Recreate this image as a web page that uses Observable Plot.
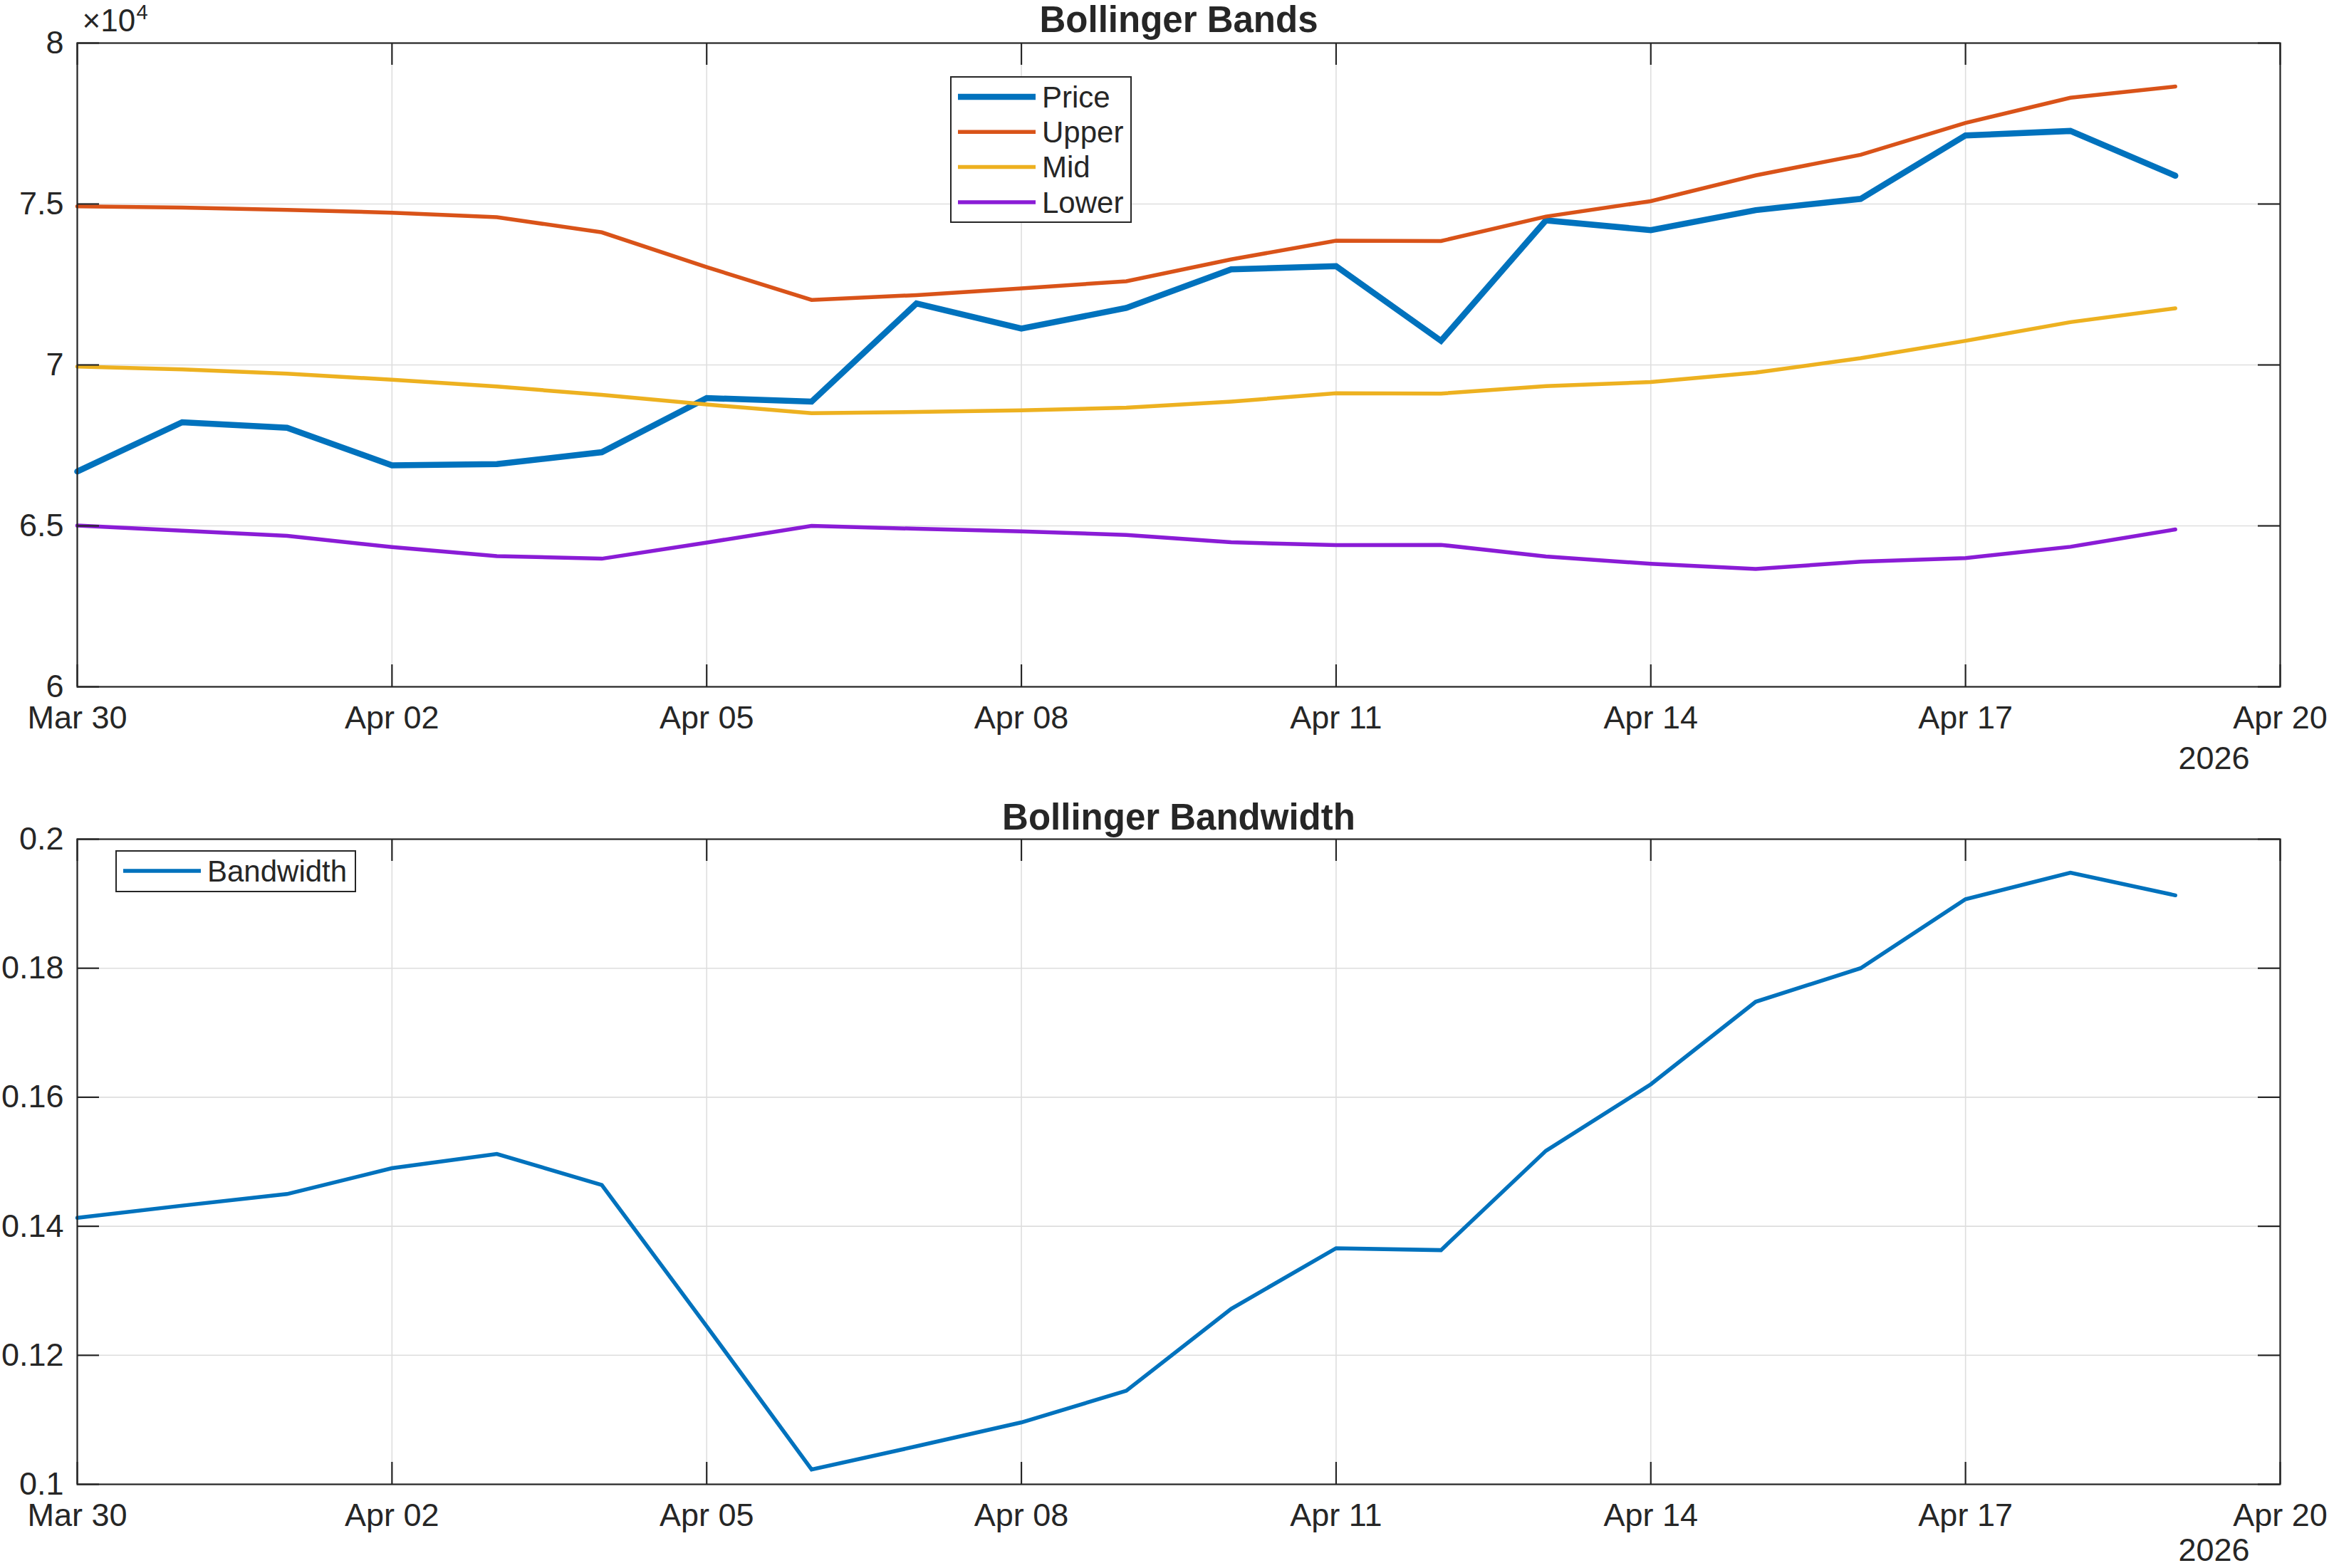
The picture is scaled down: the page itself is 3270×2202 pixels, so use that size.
<!DOCTYPE html>
<html>
<head>
<meta charset="utf-8">
<script src="https://cdn.jsdelivr.net/npm/d3@7"></script>
<script src="https://cdn.jsdelivr.net/npm/@observablehq/plot@0.6"></script>
<style>
  html, body { margin: 0; padding: 0; background: #ffffff; }
  #figure { position: relative; width: 3270px; height: 2202px; background: #ffffff; overflow: hidden; }
  #figure > svg, #figure > div { position: absolute; }
  .legend { box-sizing: border-box; background: #ffffff; border: 2.5px solid #262626; }
</style>
</head>
<body>
<div id="figure"></div>
<script>
// Daily closes and Bollinger band values, Mar 30 – Apr 19 2026
const dates = [
  "2026-03-30", "2026-03-31", "2026-04-01", "2026-04-02", "2026-04-03", "2026-04-04", "2026-04-05",
  "2026-04-06", "2026-04-07", "2026-04-08", "2026-04-09", "2026-04-10", "2026-04-11", "2026-04-12",
  "2026-04-13", "2026-04-14", "2026-04-15", "2026-04-16", "2026-04-17", "2026-04-18", "2026-04-19"
];
const price = [66690, 68220, 68050, 66880, 66920, 67290, 68970, 68860, 71910, 71130, 71770,
               72970, 73070, 70750, 74490, 74190, 74810, 75160, 77130, 77270, 75880];
const upper = [74930, 74890, 74820, 74730, 74590, 74120, 73040, 72020, 72170, 72380, 72600,
               73280, 73860, 73850, 74610, 75090, 75890, 76530, 77520, 78300, 78650];
const mid   = [69950, 69860, 69730, 69540, 69330, 69070, 68770, 68500, 68540, 68590, 68670,
               68860, 69120, 69110, 69340, 69470, 69760, 70210, 70750, 71330, 71760];
const lower = [65010, 64850, 64690, 64340, 64060, 63980, 64480, 65000, 64910, 64830, 64720,
               64490, 64400, 64410, 64050, 63820, 63660, 63890, 64000, 64350, 64890];
const bandwidth = [0.1413, 0.1432, 0.1450, 0.1490, 0.1512, 0.1464, 0.1245, 0.1023, 0.1059, 0.1096, 0.1145,
                   0.1272, 0.1366, 0.1363, 0.1517, 0.1620, 0.1748, 0.1800, 0.1907, 0.1948, 0.1913];

// Axis ticks
const xTickDates = ["2026-03-30", "2026-04-02", "2026-04-05", "2026-04-08", "2026-04-11", "2026-04-14", "2026-04-17", "2026-04-20"];
const xDomain = ["2026-03-30", "2026-04-20"];
const priceTicks = [60000, 65000, 70000, 75000, 80000];
const priceDomain = [60000, 80000];
const bwTicks = [0.10, 0.12, 0.14, 0.16, 0.18, 0.20];
const bwDomain = [0.10, 0.20];
const yearLabel = "2026";

// Series names and colours
const bandSeries = ["Price", "Upper", "Mid", "Lower"];
const bandColors = ["#0072BD", "#D95319", "#EDB120", "#8A1CD6"];
const bandWidths = [8.5, 5.5, 5.5, 5.5];
const bwSeries = ["Bandwidth"];
const bwColors = ["#0072BD"];
const bwWidths = [5.5];

const parse = d3.utcParse("%Y-%m-%d");
const fmtDay = d3.utcFormat("%b %d");
const ink = "#262626";
const gridInk = "#dedede";
const FONT = "'Liberation Sans', Arial, Helvetica, sans-serif";

const bandData = [price, upper, mid, lower].flatMap((vals, k) =>
  vals.map((v, i) => ({date: parse(dates[i]), value: v, series: bandSeries[k]})));
const bwData = bandwidth.map((v, i) => ({date: parse(dates[i]), value: v, series: bwSeries[0]}));

const W = 3270, ML = 108, MR = 69, TICK = 31;
const frameW = W - ML - MR;

function panel({data, series, colors, widths, height, marginTop, marginBottom, yDomain, yTicks, yFormat, title, titleDy, yearDy, exponent}) {
  const frameH = height - marginTop - marginBottom;
  const xTicks = xTickDates.map(parse);
  const marks = [
    Plot.gridX(xTicks, {stroke: gridInk, strokeOpacity: 1, strokeWidth: 1.6}),
    Plot.gridY(yTicks, {stroke: gridInk, strokeOpacity: 1, strokeWidth: 1.6}),
    ...series.map((s, k) => Plot.line(data.filter(d => d.series === s), {
      x: "date", y: "value", stroke: colors[k], strokeWidth: widths[k], strokeLinejoin: "miter", strokeMiterlimit: 4
    })),
    // inward tick marks on all four sides
    Plot.tickX(xTicks, {stroke: ink, strokeWidth: 2.2, insetTop: frameH - TICK}),
    Plot.tickX(xTicks, {stroke: ink, strokeWidth: 2.2, insetBottom: frameH - TICK}),
    Plot.tickY(yTicks, {stroke: ink, strokeWidth: 2.2, insetRight: frameW - TICK}),
    Plot.tickY(yTicks, {stroke: ink, strokeWidth: 2.2, insetLeft: frameW - TICK}),
    Plot.frame({stroke: ink, strokeWidth: 2.2}),
    Plot.text([title], {text: d => d, frameAnchor: "top", lineAnchor: "top", dy: titleDy,
      fontSize: 51, fontWeight: "bold", fill: ink}),
    Plot.text([yearLabel], {text: d => d, frameAnchor: "bottom-right", textAnchor: "end", lineAnchor: "top",
      dx: -43, dy: yearDy, fontSize: 45, fill: ink})
  ];
  if (exponent) {
    marks.push(
      Plot.text(["×10"], {text: d => d, frameAnchor: "top-left", textAnchor: "start", lineAnchor: "top",
        dx: 7, dy: -48, fontSize: 44, fill: ink}),
      Plot.text([exponent], {text: d => d, frameAnchor: "top-left", textAnchor: "start", lineAnchor: "top",
        dx: 83, dy: -54, fontSize: 29, fill: ink})
    );
  }
  return Plot.plot({
    width: W, height,
    marginLeft: ML, marginRight: MR, marginTop, marginBottom,
    style: {fontFamily: FONT, fontSize: "45px", color: ink, background: "#ffffff", overflow: "visible"},
    x: {type: "utc", domain: xDomain.map(parse), ticks: xTicks, tickFormat: fmtDay, tickSize: 0, tickPadding: 27, label: null},
    y: {domain: yDomain, ticks: yTicks, tickFormat: yFormat, tickSize: 0, tickPadding: 19, label: null},
    marks
  });
}

function legend({names, colors, widths, left, top, width, height, rowStep, firstRow}) {
  const box = document.createElement("div");
  box.className = "legend";
  Object.assign(box.style, {left: left + "px", top: top + "px", width: width + "px", height: height + "px"});
  const svg = d3.create("svg").attr("width", width - 5).attr("height", height - 5)
    .style("position", "absolute").style("left", "0px").style("top", "0px");
  names.forEach((n, k) => {
    const cy = firstRow + k * rowStep;
    svg.append("line").attr("x1", 9).attr("x2", 118).attr("y1", cy).attr("y2", cy)
      .attr("stroke", colors[k]).attr("stroke-width", widths[k]);
    svg.append("text").attr("x", 127).attr("y", cy).attr("dy", "0.35em")
      .attr("font-family", FONT).attr("font-size", 42).attr("fill", ink).text(n);
  });
  box.appendChild(svg.node());
  return box;
}

const fig = document.getElementById("figure");

const bandsChart = panel({
  data: bandData, series: bandSeries, colors: bandColors, widths: bandWidths,
  height: 1090, marginTop: 60, marginBottom: 126,
  yDomain: priceDomain, yTicks: priceTicks, yFormat: d => String(d / 10000),
  title: "Bollinger Bands", titleDy: -52, yearDy: 84, exponent: "4"
});
bandsChart.style.left = "0px"; bandsChart.style.top = "0px";
fig.appendChild(bandsChart);

const widthChart = panel({
  data: bwData, series: bwSeries, colors: bwColors, widths: bwWidths,
  height: 1112, marginTop: 88, marginBottom: 118,
  yDomain: bwDomain, yTicks: bwTicks, yFormat: d => String(+d.toFixed(2)),
  title: "Bollinger Bandwidth", titleDy: -50, yearDy: 76
});
widthChart.style.left = "0px"; widthChart.style.top = "1090px";
fig.appendChild(widthChart);

fig.appendChild(legend({names: bandSeries, colors: bandColors, widths: bandWidths,
  left: 1334, top: 107, width: 255, height: 206, rowStep: 49.3, firstRow: 27}));
fig.appendChild(legend({names: bwSeries, colors: bwColors, widths: bwWidths,
  left: 162, top: 1194, width: 338, height: 59, rowStep: 0, firstRow: 27}));
</script>
</body>
</html>
